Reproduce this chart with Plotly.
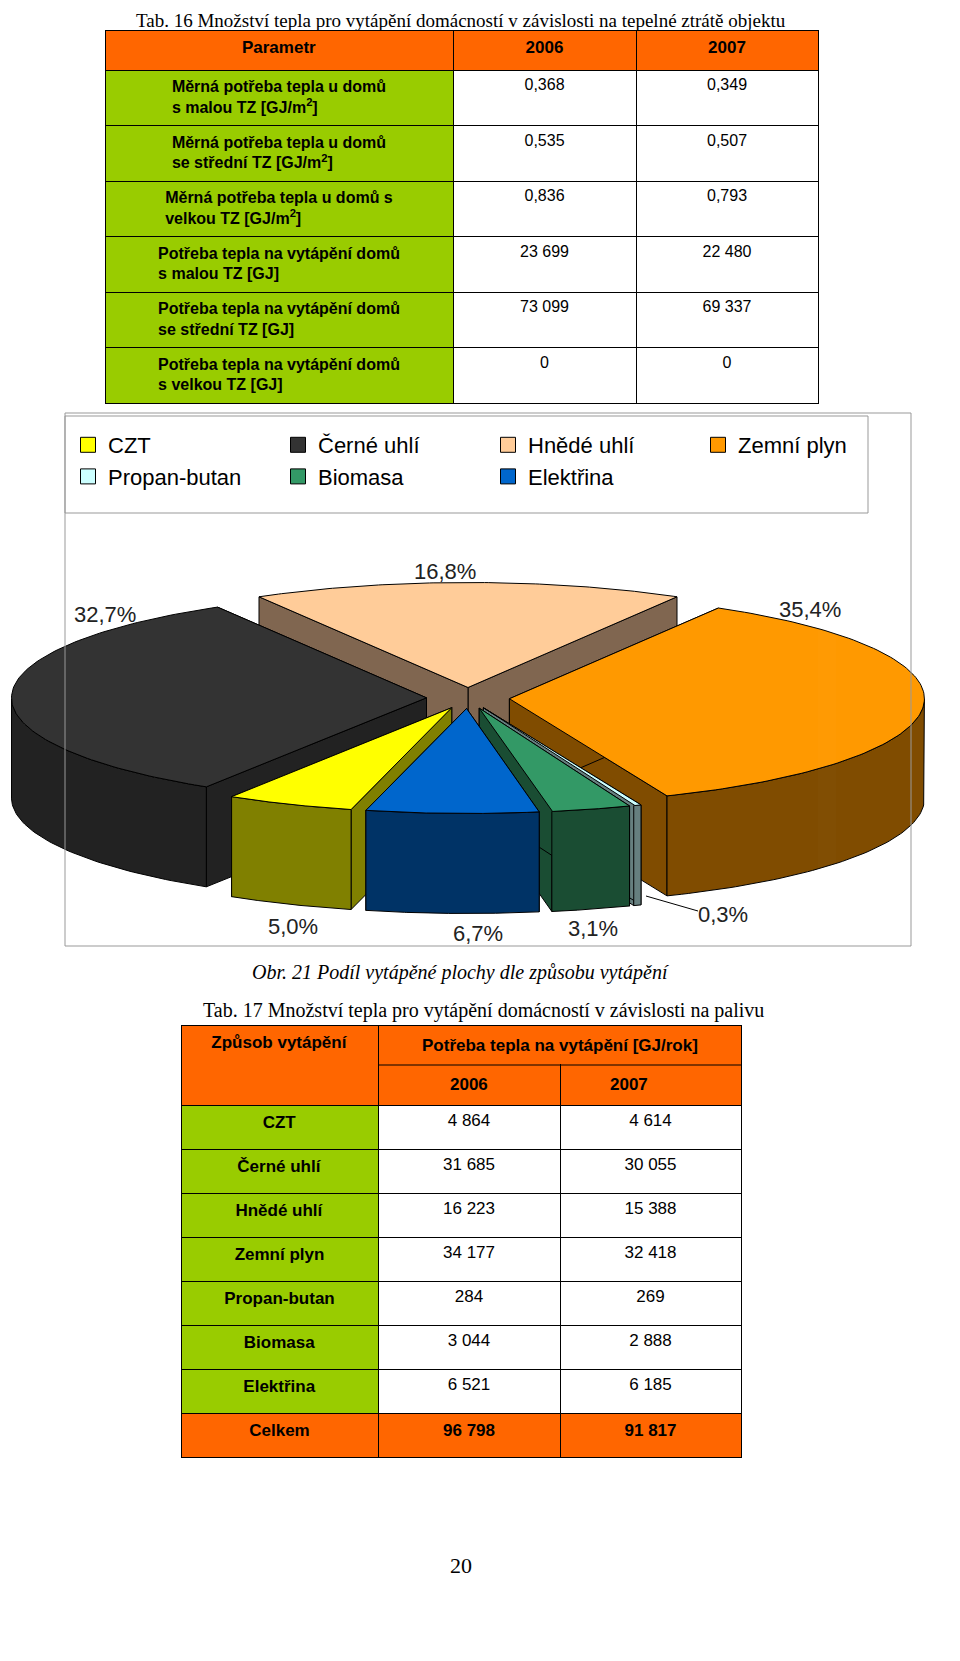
import numpy as np
import plotly.graph_objects as go

W, H = 960, 1661

# Tab. 16
t16_params = ["<b>Měrná potřeba tepla u domů<br>s malou TZ [GJ/m<sup>2</sup>]</b>",
              "<b>Měrná potřeba tepla u domů<br>se střední TZ [GJ/m<sup>2</sup>]</b>",
              "<b>Měrná potřeba tepla u domů s<br>velkou TZ [GJ/m<sup>2</sup>]</b>",
              "<b>Potřeba tepla na vytápění domů<br>s malou TZ [GJ]</b>",
              "<b>Potřeba tepla na vytápění domů<br>se střední TZ [GJ]</b>",
              "<b>Potřeba tepla na vytápění domů<br>s velkou TZ [GJ]</b>"]
t16_2006 = ["0,368", "0,535", "0,836", "23 699", "73 099", "0"]
t16_2007 = ["0,349", "0,507", "0,793", "22 480", "69 337", "0"]

# pie
fuels = ["CZT", "Černé uhlí", "Hnědé uhlí", "Zemní plyn", "Propan-butan", "Biomasa", "Elektřina"]
shares = [5.0, 32.7, 16.8, 35.4, 0.3, 3.1, 6.7]
share_labels = ["5,0%", "32,7%", "16,8%", "35,4%", "0,3%", "3,1%", "6,7%"]
top_colors = ["#FFFF00", "#333333", "#FFCC99", "#FF9900", "#CCFFFF", "#339966", "#0066CC"]
side_colors = ["#808000", "#222222", "#806650", "#804C00", "#667F7F", "#1A4D33", "#003366"]

# Tab. 17
t17_fuels = ["CZT", "Černé uhlí", "Hnědé uhlí", "Zemní plyn", "Propan-butan", "Biomasa", "Elektřina", "Celkem"]
t17_2006 = ["4 864", "31 685", "16 223", "34 177", "284", "3 044", "6 521", "96 798"]
t17_2007 = ["4 614", "30 055", "15 388", "32 418", "269", "2 888", "6 185", "91 817"]
t17_years = ["2006", "2007"]

ORANGE = "#FF6600"
GREEN = "#99CC00"
FONT = "Liberation Sans, Arial"

fig = go.Figure()

# --- pie drawn as 3D ellipse slices
cx, cy, a, b, depth, pull = 460, 690, 415, 105, 100, 0.1
clock_order = [2, 3, 4, 5, 6, 0, 1]  # clockwise from top
start = 90 + shares[2] / 100 * 180
slices = {}
ang = start
for i in clock_order:
    span = shares[i] / 100 * 360
    slices[i] = (ang - span, ang)
    ang -= span

def pt(t, ox, oy, dy=0):
    r = np.radians(t)
    return ox + a * np.cos(r), oy - b * np.sin(r) + dy

line = dict(color="black", width=1)
draw = sorted(slices, key=lambda i: -np.sin(np.radians(sum(slices[i]) / 2)))
for i in draw:
    t0, t1 = slices[i]
    mid = np.radians((t0 + t1) / 2)
    ox, oy = cx + pull * a * np.cos(mid), cy - pull * b * np.sin(mid)
    # radial walls
    for t in (t0, t1):
        ex, ey = pt(t, ox, oy)
        fig.add_trace(go.Scatter(x=[ox, ex, ex, ox, ox], y=[oy, ey, ey + depth, oy + depth, oy],
                                 fill="toself", fillcolor=side_colors[i], line=line,
                                 mode="lines", showlegend=False, hoverinfo="skip"))
    # outer wall (front part only)
    ts = np.linspace(t0, t1, 120)
    ts = ts[np.sin(np.radians(ts)) <= 0.0]
    if len(ts) > 1:
        xs, ys = pt(ts, ox, oy)
        fig.add_trace(go.Scatter(x=np.r_[xs, xs[::-1], xs[0]], y=np.r_[ys, ys[::-1] + depth, ys[0]],
                                 fill="toself", fillcolor=side_colors[i], line=line,
                                 mode="lines", showlegend=False, hoverinfo="skip"))
    # top face
    ts = np.linspace(t0, t1, 120)
    xs, ys = pt(ts, ox, oy)
    fig.add_trace(go.Scatter(x=np.r_[ox, xs, ox], y=np.r_[oy, ys, oy], fill="toself",
                             fillcolor=top_colors[i], line=line, mode="lines",
                             showlegend=False, hoverinfo="skip"))

# legend entries (square swatches)
for i, f in enumerate(fuels):
    fig.add_trace(go.Scatter(x=[None], y=[None], mode="markers", name=f, legendrank=i + 1,
                             marker=dict(symbol="square", size=15, color=top_colors[i],
                                         line=dict(color="black", width=1))))

label_pos = [(285, 918), (97, 606), (437, 563), (802, 601), (715, 906), (585, 920), (470, 925)]
for lab, (x, y) in zip(share_labels, label_pos):
    fig.add_annotation(x=x, y=y, text=lab, showarrow=False, font=dict(size=22, color="#222", family=FONT))
fig.add_shape(type="line", x0=690, y0=903, x1=638, y1=888, line=dict(color="black", width=1))

# --- tables
fig.add_trace(go.Table(
    domain=dict(x=[97 / W, 810 / W], y=[0, 1 - 22 / H]),
    columnwidth=[348, 183, 182],
    header=dict(values=["<b>Parametr</b>", "<b>2006</b>", "<b>2007</b>"], height=40,
                fill_color=ORANGE, line_color="black", align="center",
                font=dict(size=17, color="black", family=FONT)),
    cells=dict(values=[t16_params, t16_2006, t16_2007], height=55.5,
               fill_color=[[GREEN] * 6, ["white"] * 6, ["white"] * 6], line_color="black",
               align="center", font=dict(size=16, color="black", family=FONT))))

n = len(t17_fuels)
fig.add_trace(go.Table(
    domain=dict(x=[173 / W, 733 / W], y=[0, 1 - 1017 / H]),
    columnwidth=[197, 182, 181],
    header=dict(values=["<br><b>Způsob vytápění</b>", "", ""], height=80,
                fill_color=ORANGE, line_color="black", align="center",
                font=dict(size=17, color="black", family=FONT)),
    cells=dict(values=[["<b>%s</b>" % f for f in t17_fuels], t17_2006[:-1] + ["<b>%s</b>" % t17_2006[-1]],
                       t17_2007[:-1] + ["<b>%s</b>" % t17_2007[-1]]], height=44,
               fill_color=[[GREEN] * (n - 1) + [ORANGE], ["white"] * (n - 1) + [ORANGE],
                           ["white"] * (n - 1) + [ORANGE]], line_color="black",
               align="center", font=dict(size=17, color="black", family=FONT))))

# merged header cell of Tab. 17
fig.add_shape(type="rect", xref="paper", yref="paper", x0=371 / W, x1=732 / W,
              y0=1 - 1056 / H, y1=1 - 1018 / H, fillcolor=ORANGE, line_width=0, layer="above")
fig.add_shape(type="line", xref="paper", yref="paper", x0=370 / W, x1=733 / W,
              y0=1 - 1057 / H, y1=1 - 1057 / H, line=dict(color="black", width=1), layer="above")
fig.add_annotation(xref="paper", yref="paper", x=552 / W, y=1 - 1037 / H, showarrow=False,
                   text="<b>Potřeba tepla na vytápění [GJ/rok]</b>", font=dict(size=17, color="black", family=FONT))
for yr, xc in zip(t17_years, [461, 642]):
    fig.add_annotation(xref="paper", yref="paper", x=xc / W, y=1 - 1076 / H, showarrow=False,
                       text="<b>%s</b>" % yr, font=dict(size=17, color="black", family=FONT))

# chart frame and legend box
fig.add_shape(type="rect", x0=57, y0=405, x1=903, y1=938, line=dict(color="#999", width=1))
fig.add_shape(type="rect", x0=57, y0=408, x1=860, y1=505, line=dict(color="#999", width=1))

serif = "Liberation Serif, Times New Roman"
fig.add_annotation(x=453, y=12, text="Tab. 16 Množství tepla pro vytápění domácností v závislosti na tepelné ztrátě objektu",
                   showarrow=False, font=dict(size=19, family=serif, color="black"))
fig.add_annotation(x=453, y=964, text="<i>Obr. 21 Podíl vytápěné plochy dle způsobu vytápění</i>",
                   showarrow=False, font=dict(size=20, family=serif, color="black"))
fig.add_annotation(x=475, y=1002, text="Tab. 17 Množství tepla pro vytápění domácností v závislosti na palivu",
                   showarrow=False, font=dict(size=20, family=serif, color="black"))
fig.add_annotation(x=453, y=1557, text="20", showarrow=False, font=dict(size=22, family=serif, color="black"))

fig.update_layout(
    width=W, height=H, margin=dict(l=0, r=0, t=0, b=0),
    plot_bgcolor="white", paper_bgcolor="white",
    xaxis=dict(range=[0, W], visible=False, domain=[0, 1], fixedrange=True),
    yaxis=dict(range=[H, 0], visible=False, domain=[0, 1], fixedrange=True),
    legend=dict(orientation="h", x=60 / W, y=1 - 416 / H, yanchor="top", xanchor="left",
                entrywidth=165, entrywidthmode="pixels", itemwidth=30,
                font=dict(size=22, family=FONT, color="black"),
                bgcolor="rgba(0,0,0,0)", tracegroupgap=0),
)
fig.write_html("out.html")
